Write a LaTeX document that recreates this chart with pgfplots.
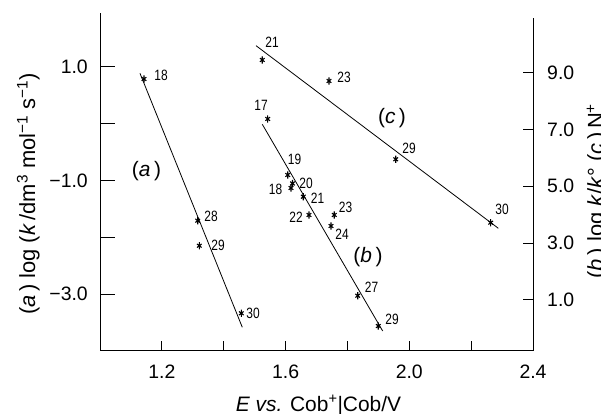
\documentclass[border=0pt]{standalone}
\usepackage{pgfplots}
\pgfplotsset{compat=1.18}
\usepackage{fontspec}
\setmainfont{Liberation Sans}
\usepackage{graphicx}
\newcommand{\pix}[2]{({#1bp},{414bp-#2bp})}
\newcommand{\lab}[1]{\scalebox{0.8}[1]{\fontsize{15}{15}\selectfont #1}}
\newcommand{\tickfont}{\fontsize{19.5}{20}\selectfont}
\newcommand{\labfont}{\fontsize{22}{24}\selectfont}
\pgfplotsset{ptmark/.style={only marks, mark=asterisk, mark size=3.6bp, mark options={line width=1.1bp, xscale=0.75}}}
\begin{document}
\begin{tikzpicture}
% left axis: series (a)
\begin{axis}[
  at={(100bp,63bp)}, anchor=south west,
  scale only axis, width=433bp, height=338bp,
  xmin=1.0, xmax=2.4, ymin=-4, ymax=1.95,
  axis x line*=bottom, axis y line*=left,
  axis line style={line width=1bp, -},
  xtick=\empty,
  ytick={1,0,-1,-2,-3},
  yticklabels={1.0,,−1.0,,−3.0},
  tick align=inside,
  major tick length=15bp,
  tick style={line width=1bp, black},
  yticklabel style={font=\tickfont, inner sep=0pt, anchor=east, xshift=-12bp},
  clip=false,
]
\addplot[black, line width=0.8bp] coordinates {(1.1293,0.888) (1.4601,-3.583)};
\addplot[ptmark] coordinates {(1.1423,0.788) (1.3159,-1.706) (1.3211,-2.147) (1.4569,-3.336)};
\end{axis}
% right axis: series (b) and (c)
\begin{axis}[
  at={(100bp,63bp)}, anchor=south west,
  scale only axis, width=433bp, height=338bp,
  xmin=1.0, xmax=2.4, ymin=-0.8, ymax=11.1,
  axis x line*=bottom, axis y line*=right,
  axis line style={line width=1bp, -},
  y axis line style={shorten >=5bp},
  xtick={1.2,1.4,1.6,1.8,2.0,2.2,2.4},
  xticklabels={1.2,,1.6,,2.0,,2.4},
  ytick={1,3,5,7,9},
  yticklabels={1.0,3.0,5.0,7.0,9.0},
  tick align=inside, major tick length=10bp,
  tick style={line width=1bp, black},
  xticklabel style={font=\tickfont, inner sep=0pt, anchor=north, yshift=-14bp},
  yticklabel style={font=\tickfont, inner sep=0pt, anchor=west, xshift=14bp},
  clip=false,
]
% (c)
\addplot[black, line width=0.8bp] coordinates {(1.5044,9.95) (2.2878,3.52)};
\addplot[ptmark] coordinates {(1.5247,9.446) (1.7404,8.707) (1.9561,5.95) (2.2632,3.718)};
% (b)
\addplot[black, line width=0.8bp] coordinates {(1.5247,7.182) (1.914,-0.096)};
\addplot[ptmark] coordinates {(1.5422,7.369) (1.6069,5.397) (1.6175,4.939) (1.6224,5.098) (1.6573,4.633) (1.6757,3.989) (1.7575,3.989) (1.7469,3.601) (1.8332,1.147) (1.8998,0.08)};
\end{axis}
% point labels
\node at \pix{161}{75} {\lab{18}};
\node at \pix{211}{216} {\lab{28}};
\node at \pix{218}{245} {\lab{29}};
\node at \pix{253}{313} {\lab{30}};
\node at \pix{272}{42} {\lab{21}};
\node at \pix{344}{77.5} {\lab{23}};
\node at \pix{409}{148} {\lab{29}};
\node at \pix{502}{209} {\lab{30}};
\node at \pix{261}{105} {\lab{17}};
\node at \pix{294.5}{159} {\lab{19}};
\node at \pix{275.5}{189} {\lab{18}};
\node at \pix{306}{183} {\lab{20}};
\node at \pix{317.5}{198} {\lab{21}};
\node at \pix{296}{217.5} {\lab{22}};
\node at \pix{345.5}{207.5} {\lab{23}};
\node at \pix{342}{234.5} {\lab{24}};
\node at \pix{371.5}{287} {\lab{27}};
\node at \pix{392}{319} {\lab{29}};
% group labels
\node[font=\fontsize{21}{24}\selectfont] at \pix{146.5}{171} {(\textit{a}\,)};
\node[font=\fontsize{21}{24}\selectfont] at \pix{368}{257} {(\textit{b}\,)};
\node[font=\fontsize{21}{24}\selectfont] at \pix{392}{118} {(\textit{c}\,)};
% axis labels
\node[rotate=90, anchor=base, font=\labfont] at \pix{35}{194} {(\textit{a}\,) log (\textit{k}\,/dm\textsuperscript{3} mol\textsuperscript{−1} s\textsuperscript{−1})};
\node[rotate=90, anchor=base, font=\labfont] at \pix{603}{191} {(\textit{b}\,) log \textit{k}/\textit{k}° (\textit{c}\,)\,N\textsuperscript{+}};
\node[anchor=base, font=\fontsize{21}{24}\selectfont] at \pix{318.5}{411} {\textit{E vs.} Cob\textsuperscript{+}|Cob/V};
\pgfresetboundingbox
\useasboundingbox (0,0) rectangle (601bp,414bp);
\end{tikzpicture}
\end{document}
